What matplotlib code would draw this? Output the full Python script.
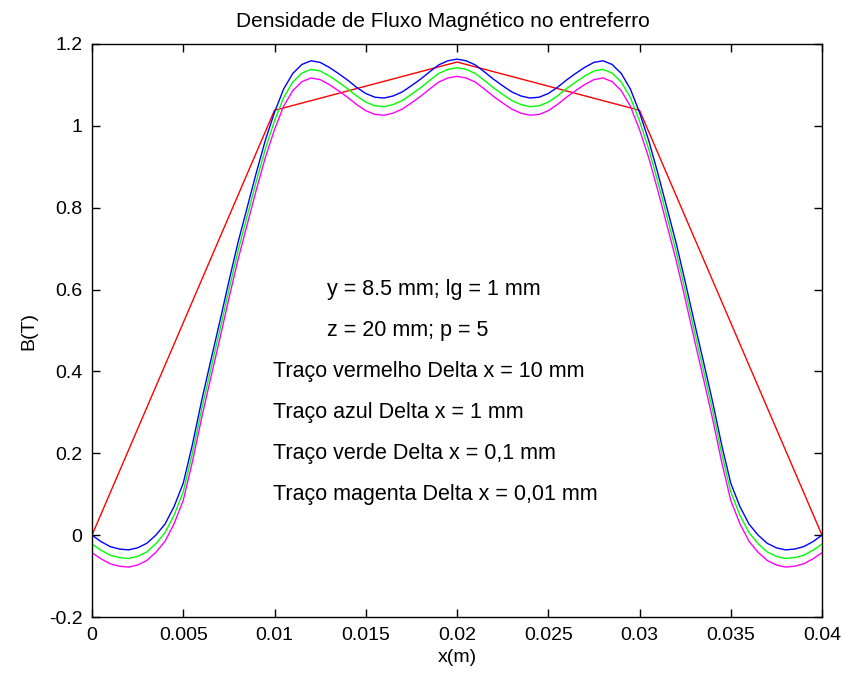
import numpy as np
import matplotlib
matplotlib.use("Agg")
import matplotlib.pyplot as plt

plt.rcParams['font.family'] = ['Liberation Sans', 'DejaVu Sans']

# Red trace: Delta x = 10 mm
x_red = [0.0, 0.01, 0.02, 0.03, 0.04]
b_red = [0.0, 1.038, 1.156, 1.038, 0.0]

# Sample positions for the other traces (every 0.5 mm)
x_fine = [i * 0.0005 for i in range(81)]

# Blue trace: Delta x = 1 mm
b_blue = [0.000, -0.016, -0.028, -0.034, -0.036, -0.031, -0.020, 0.000, 0.027, 0.070,
          0.127, 0.221, 0.327, 0.425, 0.521, 0.620, 0.715, 0.800, 0.885, 0.965,
          1.033, 1.090, 1.128, 1.150, 1.159, 1.155, 1.143, 1.128, 1.112, 1.094,
          1.079, 1.070, 1.068, 1.073, 1.083, 1.098, 1.114, 1.132, 1.149, 1.159,
          1.163,
          1.159, 1.149, 1.132, 1.114, 1.098, 1.083, 1.073, 1.068, 1.070, 1.079,
          1.094, 1.112, 1.128, 1.143, 1.155, 1.159, 1.150, 1.128, 1.090, 1.033,
          0.965, 0.885, 0.800, 0.715, 0.620, 0.521, 0.425, 0.327, 0.221, 0.127,
          0.070, 0.027, 0.000, -0.020, -0.031, -0.036, -0.034, -0.028, -0.016, 0.000]

# Green trace: Delta x = 0.1 mm
b_green = [-0.022, -0.037, -0.049, -0.055, -0.057, -0.052, -0.041, -0.021, 0.006, 0.049,
           0.106, 0.200, 0.306, 0.404, 0.500, 0.599, 0.694, 0.779, 0.864, 0.944,
           1.012, 1.069, 1.107, 1.129, 1.138, 1.134, 1.122, 1.107, 1.091, 1.073,
           1.058, 1.049, 1.047, 1.052, 1.062, 1.077, 1.093, 1.111, 1.128, 1.138,
           1.142,
           1.138, 1.128, 1.111, 1.093, 1.077, 1.062, 1.052, 1.047, 1.049, 1.058,
           1.073, 1.091, 1.107, 1.122, 1.134, 1.138, 1.129, 1.107, 1.069, 1.012,
           0.944, 0.864, 0.779, 0.694, 0.599, 0.500, 0.404, 0.306, 0.200, 0.106,
           0.049, 0.006, -0.021, -0.041, -0.052, -0.057, -0.055, -0.049, -0.037, -0.022]

# Magenta trace: Delta x = 0.01 mm
b_magenta = [-0.043, -0.058, -0.070, -0.076, -0.078, -0.073, -0.062, -0.042, -0.015, 0.028,
             0.085, 0.179, 0.285, 0.383, 0.479, 0.578, 0.673, 0.758, 0.843, 0.923,
             0.991, 1.048, 1.086, 1.108, 1.117, 1.113, 1.101, 1.086, 1.070, 1.052,
             1.037, 1.028, 1.026, 1.031, 1.041, 1.056, 1.072, 1.090, 1.107, 1.117,
             1.121,
             1.117, 1.107, 1.090, 1.072, 1.056, 1.041, 1.031, 1.026, 1.028, 1.037,
             1.052, 1.070, 1.086, 1.101, 1.113, 1.117, 1.108, 1.086, 1.048, 0.991,
             0.923, 0.843, 0.758, 0.673, 0.578, 0.479, 0.383, 0.285, 0.179, 0.085,
             0.028, -0.015, -0.042, -0.062, -0.073, -0.078, -0.076, -0.070, -0.058, -0.043]

x_ticks = [0, 0.005, 0.01, 0.015, 0.02, 0.025, 0.03, 0.035, 0.04]
x_tick_labels = ["0", "0.005", "0.01", "0.015", "0.02", "0.025", "0.03", "0.035", "0.04"]
y_ticks = [-0.2, 0, 0.2, 0.4, 0.6, 0.8, 1.0, 1.2]
y_tick_labels = ["-0.2", "0", "0.2", "0.4", "0.6", "0.8", "1", "1.2"]

notes = ["y = 8.5 mm; lg = 1 mm",
         "z = 20 mm; p = 5",
         "Traço vermelho Delta x = 10 mm",
         "Traço azul Delta x = 1 mm",
         "Traço verde Delta x = 0,1 mm",
         "Traço magenta Delta x = 0,01 mm"]
note_x = [0.0129, 0.0129, 0.0099, 0.0099, 0.0099, 0.0099]
note_y = [0.6, 0.5, 0.4, 0.3, 0.2, 0.1]

fig = plt.figure(figsize=(8.43, 6.81), dpi=100)
ax = fig.add_axes([92 / 843, 64 / 681, 730 / 843, 573 / 681])

ax.plot(x_red, b_red, color=(1, 0, 0), lw=1.0)
ax.plot(x_fine, b_blue, color=(0, 0, 1), lw=1.0)
ax.plot(x_fine, b_green, color=(0, 1, 0), lw=1.0)
ax.plot(x_fine, b_magenta, color=(1, 0, 1), lw=1.0)

ax.set_xlim(0, 0.04)
ax.set_ylim(-0.2, 1.2)
ax.set_xticks(x_ticks)
ax.set_xticklabels(x_tick_labels)
ax.set_yticks(y_ticks)
ax.set_yticklabels(y_tick_labels)
ax.tick_params(direction='in', length=6, width=1, top=True, right=True,
               labelsize=14, pad=7, colors='black')
for s in ax.spines.values():
    s.set_linewidth(1.0)
    s.set_color('black')

for t, xx, yy in zip(notes, note_x, note_y):
    ax.text(xx, yy, t, fontsize=15.5, ha='left', va='center')

ax.set_xlabel("x(m)", fontsize=14, labelpad=4)
ax.set_ylabel("B(T)", fontsize=14, labelpad=8)
ax.set_title("Densidade de Fluxo Magnético no entreferro", fontsize=15, pad=12, x=0.481)

fig.savefig("out.png", dpi=100, facecolor='white')
